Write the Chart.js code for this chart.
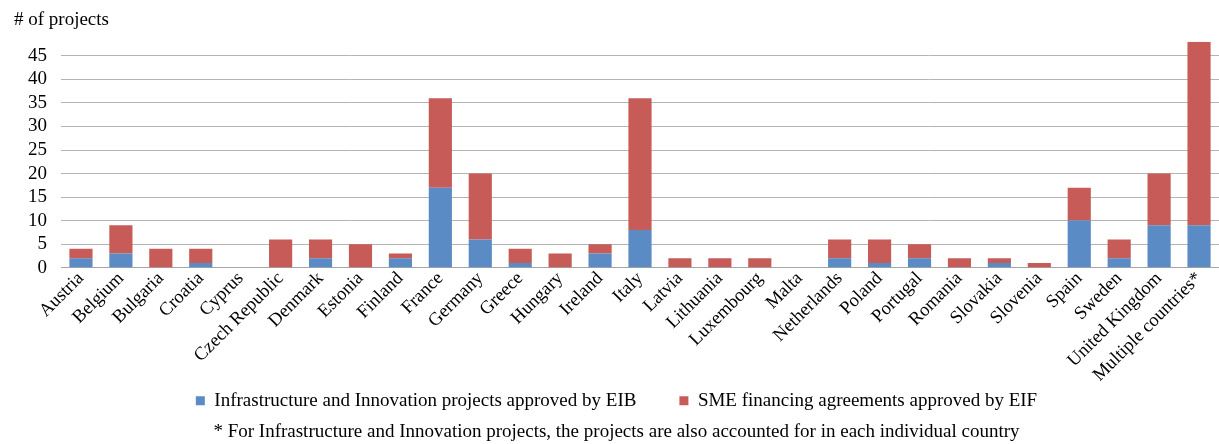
<!DOCTYPE html>
<html>
<head>
<meta charset="utf-8">
<script src="https://cdn.jsdelivr.net/npm/chart.js@4"></script>
<style>
  html, body { margin: 0; padding: 0; background: #fff; }
  #wrap { width: 1219px; height: 444px; position: relative; }
</style>
</head>
<body>
<div id="wrap"><canvas id="projChart"></canvas></div>
<script>
var countries = ['Austria', 'Belgium', 'Bulgaria', 'Croatia', 'Cyprus', 'Czech Republic', 'Denmark', 'Estonia',
  'Finland', 'France', 'Germany', 'Greece', 'Hungary', 'Ireland', 'Italy', 'Latvia', 'Lithuania', 'Luxembourg',
  'Malta', 'Netherlands', 'Poland', 'Portugal', 'Romania', 'Slovakia', 'Slovenia', 'Spain', 'Sweden',
  'United Kingdom', 'Multiple countries*'];
var eibProjects = [2, 3, 0, 1, 0, 0, 2, 0, 2, 17, 6, 1, 0, 3, 8, 0, 0, 0, 0, 2, 1, 2, 0, 1, 0, 10, 2, 9, 9];
var eifAgreements = [2, 6, 4, 3, 0, 6, 4, 5, 1, 19, 14, 3, 3, 2, 28, 2, 2, 2, 0, 4, 5, 3, 2, 1, 1, 7, 4, 11, 39];
var yTicks = [0, 5, 10, 15, 20, 25, 30, 35, 40, 45];

var serif = "'Liberation Serif', 'Times New Roman', serif";
Chart.defaults.font.family = serif;
Chart.defaults.color = '#000';

var ctx = document.getElementById('projChart').getContext('2d');
var projChart = new Chart(ctx, {
  type: 'bar',
  data: {
    labels: countries,
    datasets: [
      {
        label: 'Infrastructure and Innovation projects approved by EIB',
        data: eibProjects,
        backgroundColor: '#5B8BC5'
      },
      {
        label: 'SME financing agreements approved by EIF',
        data: eifAgreements,
        backgroundColor: '#C65B57'
      }
    ]
  },
  options: {
    responsive: true,
    maintainAspectRatio: false,
    animation: false,
    layout: { padding: { left: 14, right: 0, top: 0, bottom: 0 } },
    datasets: {
      bar: { categoryPercentage: 1, barPercentage: 0.58 }
    },
    scales: {
      x: {
        stacked: true,
        grid: { display: false, drawTicks: false },
        border: { color: '#a6a6a6' },
        ticks: {
          autoSkip: false,
          maxRotation: 45,
          minRotation: 45,
          padding: 0,
          font: { size: 18.5 }
        }
      },
      y: {
        stacked: true,
        min: 0,
        max: 48,
        afterBuildTicks: function(axis) {
          axis.ticks = yTicks.map(function(v) { return { value: v }; });
        },
        grid: { color: '#b4b4b4', drawTicks: false },
        border: { display: false },
        ticks: { autoSkip: false, padding: 14, font: { size: 19 } }
      }
    },
    plugins: {
      title: {
        display: true,
        text: '# of projects',
        align: 'start',
        font: { size: 19, weight: 'normal' },
        padding: { top: 9, bottom: 10 }
      },
      legend: {
        position: 'bottom',
        labels: {
          boxWidth: 9,
          boxHeight: 9,
          padding: 5,
          font: { size: 19 },
          generateLabels: function(chart) {
            var items = Chart.defaults.plugins.legend.labels.generateLabels(chart);
            items[0].text = items[0].text + '\u2003\u2003';
            return items;
          }
        }
      },
      subtitle: {
        display: true,
        position: 'bottom',
        text: '* For Infrastructure and Innovation projects, the projects are also accounted for in each individual country',
        font: { size: 19 },
        padding: { top: 0, bottom: 1 }
      },
      tooltip: { enabled: false }
    }
  }
});
</script>
</body>
</html>
